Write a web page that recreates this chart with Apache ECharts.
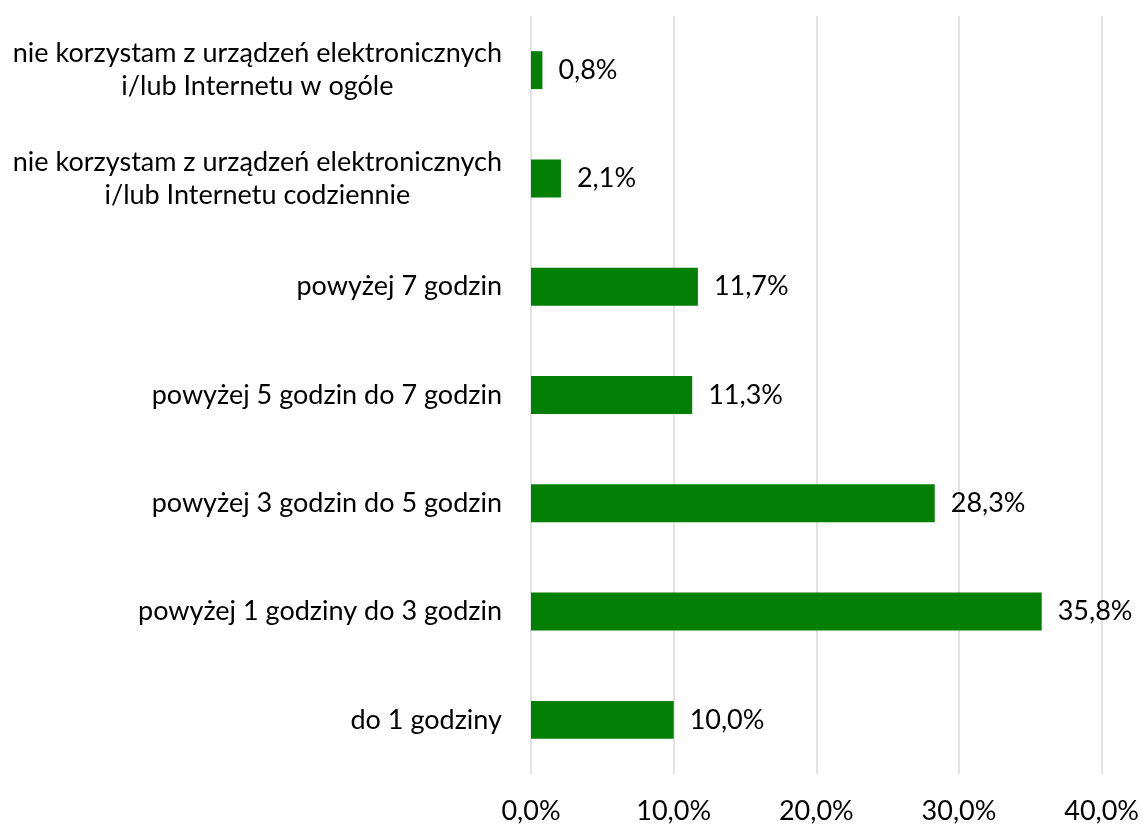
<!DOCTYPE html>
<html><head><meta charset="utf-8">
<script src="https://cdn.jsdelivr.net/npm/echarts@6/dist/echarts.min.js"></script>
<style>html,body{margin:0;padding:0;background:#fff}#c{width:1142px;height:825px}</style>
</head><body><div id="c"></div>
<script>
const categories = [
  "do 1 godziny",
  "powyżej 1 godziny do 3 godzin",
  "powyżej 3 godzin do 5 godzin",
  "powyżej 5 godzin do 7 godzin",
  "powyżej 7 godzin",
  "nie korzystam z urządzeń elektronicznych\ni/lub Internetu codziennie",
  "nie korzystam z urządzeń elektronicznych\ni/lub Internetu w ogóle"
];
const values = [10.0, 35.8, 28.3, 11.3, 11.7, 2.1, 0.8];
const xTicks = [0, 10, 20, 30, 40];

const FONT = "Lato";
const FS = 27;
const fmt = v => v.toFixed(1).replace('.', ',') + '%';
const chart = echarts.init(document.getElementById('c'), null, {renderer: 'canvas'});
chart.setOption({
  animation: false,
  textStyle: {fontFamily: FONT},
  grid: {left: 531, right: 40, top: 16, bottom: 51, containLabel: false},
  xAxis: {
    type: 'value', min: xTicks[0], max: xTicks[xTicks.length-1], interval: 10,
    axisLine: {show: false}, axisTick: {show: false},
    splitLine: {lineStyle: {color: '#d9d9d9', width: 1.5}},
    axisLabel: {fontSize: FS, color: '#000', margin: 24, fontFamily: FONT,
      formatter: v => fmt(v)}
  },
  yAxis: {
    type: 'category', data: categories,
    axisLine: {show: false}, axisTick: {show: false},
    axisLabel: {fontSize: FS, color: '#000', margin: 29, fontFamily: FONT, lineHeight: 33,
      formatter: v => v.indexOf('\n') >= 0 ? v.split('\n').map(l => '{c|' + l + '}').join('\n') : v,
      rich: {c: {align: 'center', fontSize: FS, fontFamily: FONT, color: '#000', lineHeight: 33}}
    }
  },
  series: [{
    type: 'bar', data: values, barWidth: '35%',
    itemStyle: {color: '#037f03'},
    label: {show: true, position: 'right', distance: 16, fontSize: FS, color: '#000', fontFamily: FONT,
      formatter: p => fmt(p.value)}
  }]
});
</script></body></html>
